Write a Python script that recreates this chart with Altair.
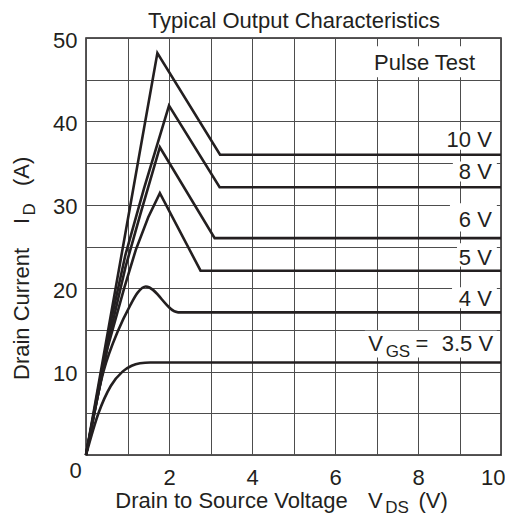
import altair as alt
import pandas as pd

INK = "#231f20"
FONT = "Liberation Sans"

# ---- curve data (V_DS in V, I_D in A) ----
vds_10 = [0, 1.72, 3.23, 10]
id_10 = [0, 48.2, 36.0, 36.0]
vds_8 = [0, 0.6, 0.95, 1.4, 2.0, 3.22, 10]
id_8 = [0, 16, 24, 32, 41.9, 32.1, 32.1]
vds_6 = [0, 0.6, 0.95, 1.3, 1.78, 3.1, 10]
id_6 = [0, 15, 22.5, 28.7, 36.9, 26.0, 26.0]
vds_5 = [0, 0.5, 0.92, 1.2, 1.5, 1.78, 2.76, 10]
id_5 = [0, 12.5, 20, 24.6, 28.5, 31.4, 22.1, 22.1]
vds_4 = [0, 0.42, 0.78, 1.05, 1.25, 1.44, 2.22, 10]
id_4 = [0, 10, 15, 17.8, 19.5, 20.2, 17.1, 17.1]
vds_35 = [0, 0.3, 0.6, 0.88, 1.1, 1.3, 1.55, 10]
id_35 = [0, 5, 8.3, 10.0, 10.7, 11.0, 11.1, 11.1]

x_grid = list(range(0, 11))
y_grid = list(range(0, 51, 5))

# in-plot labels (text, V_DS, I_D anchor)
label_text = ["10 V", "8 V", "6 V", "5 V", "4 V", "3.5 V"]
label_x = [9.78, 9.78, 9.78, 9.78, 9.78, 9.81]
label_y = [36.94, 33.15, 27.36, 22.83, 17.82, 12.42]

# white label backgrounds (V_DS from/to, I_D from/to)
box_x0 = [6.8, 8.53, 8.84, 8.77, 8.94, 8.82, 6.72]
box_x1 = [9.9, 9.9, 9.9, 9.9, 9.9, 9.9, 9.9]
box_y0 = [45.3, 36.6, 32.8, 26.8, 22.6, 17.6, 11.7]
box_y1 = [49.0, 38.9, 35.2, 30.2, 25.4, 20.1, 14.9]


def build(pairs):
    rows = []
    for name, xs, ys in pairs:
        for i, (a, b) in enumerate(zip(xs, ys)):
            rows.append({"vgs": name, "vds": a, "id": b, "order": i})
    return pd.DataFrame(rows)


sharp_df = build([("10", vds_10, id_10), ("8", vds_8, id_8),
                  ("6", vds_6, id_6), ("5", vds_5, id_5)])
smooth_df = build([("4", vds_4, id_4), ("3.5", vds_35, id_35)])
labels_df = pd.DataFrame({"t": label_text, "vds": label_x, "id": label_y})
boxes_df = pd.DataFrame({"vds": box_x0, "vds2": box_x1, "id": box_y0, "id2": box_y1})

xscale = alt.Scale(domain=[0, 10], nice=False, zero=False)
yscale = alt.Scale(domain=[0, 50], nice=False, zero=False)

xaxis = alt.Axis(values=x_grid, grid=True, gridColor="#4d4d4d", gridWidth=1,
                 ticks=False, tickSize=0, domain=False, title=None,
                 labelFont=FONT, labelFontSize=22, labelColor=INK,
                 labelPadding=12, labelFlush=True, labelFlushOffset=4,
                 labelOverlap=False, labelBound=False,
                 labelExpr="datum.value > 0 && datum.value % 2 == 0 ? datum.label : ''")
yaxis = alt.Axis(values=y_grid, grid=True, gridColor="#4d4d4d", gridWidth=1,
                 ticks=False, tickSize=0, domain=False, title=None,
                 labelFont=FONT, labelFontSize=22, labelColor=INK,
                 labelPadding=9, labelOffset=2, labelFlush=False, labelOverlap=False,
                 labelExpr="datum.value > 0 && datum.value % 10 == 0 ? datum.label : ''")


def X(f):
    return alt.X(f, type="quantitative", scale=xscale, axis=xaxis)


def Y(f):
    return alt.Y(f, type="quantitative", scale=yscale, axis=yaxis)


boxes = alt.Chart(boxes_df).mark_rect(color="white").encode(
    x=X("vds"), x2="vds2", y=Y("id"), y2="id2")

sharp = alt.Chart(sharp_df).mark_line(color=INK, strokeWidth=2.6).encode(
    x=X("vds"), y=Y("id"), detail="vgs:N", order="order:Q")
smooth = alt.Chart(smooth_df).mark_line(color=INK, strokeWidth=2.6,
                                        interpolate="monotone").encode(
    x=X("vds"), y=Y("id"), detail="vgs:N", order="order:Q")

labels = alt.Chart(labels_df).mark_text(font=FONT, fontSize=22, color=INK,
                                        align="right", baseline="alphabetic").encode(
    x=X("vds"), y=Y("id"), text="t:N")

one = pd.DataFrame({"k": [0]})


def ptext(text, x=None, y=None, size=22, align="left", angle=0, data_x=None, data_y=None):
    kw = dict(font=FONT, fontSize=size, color=INK, align=align,
              baseline="alphabetic", text=text)
    if angle:
        kw["angle"] = angle
    m = alt.Chart(one).mark_text(**kw)
    if data_x is not None:
        ex = alt.X(datum=data_x, type="quantitative", scale=xscale, axis=xaxis)
    else:
        ex = alt.value(x)
    if data_y is not None:
        ey = alt.Y(datum=data_y, type="quantitative", scale=yscale, axis=yaxis)
    else:
        ey = alt.value(y)
    return m.encode(x=ex, y=ey)


texts = [
    ptext("Typical Output Characteristics", 208, -10, align="center"),
    ptext("0", -10.5, 440.3, align="center"),
    # x-axis title
    ptext("Drain to Source Voltage", 29.3, 470),
    ptext("V", 282, 470),
    ptext("DS", 299.3, 475, size=17),
    ptext("(V)", 332.5, 470),
    # y-axis title (rotated)
    ptext("Drain Current", -57, 342, angle=270),
    ptext("I", -57, 186, angle=270),
    ptext("D", -51.5, 177.5, size=17, angle=270),
    ptext("(A)", -57, 148, angle=270),
    # in-plot annotations
    ptext("Pulse Test", align="center", data_x=8.16, data_y=46.15),
    ptext("V", data_x=6.80, data_y=12.42),
    ptext("GS", size=17, data_x=7.22, data_y=11.74),
    ptext("=", data_x=7.94, data_y=12.42),
]

chart = alt.layer(boxes, sharp, smooth, labels, *texts).properties(
    width=415, height=417,
    autosize=alt.AutoSizeParams(type="none"),
    padding={"left": 78, "top": 30, "right": 4, "bottom": 62},
    background="white",
).configure_view(stroke=INK, strokeWidth=1.5)

chart.save("out.html", embed_options={"renderer": "svg", "actions": False})
